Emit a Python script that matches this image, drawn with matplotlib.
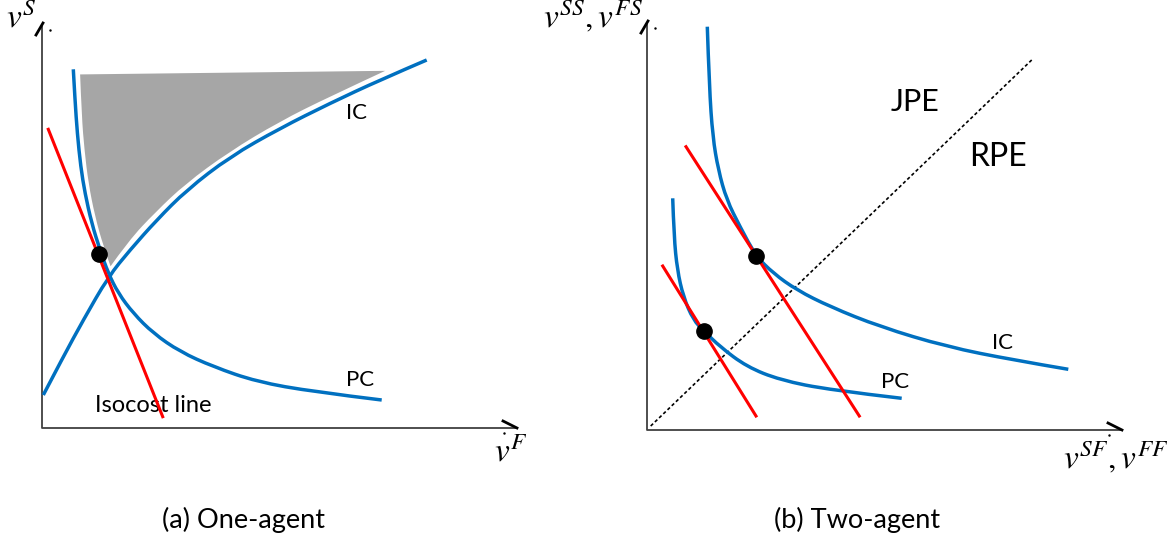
import numpy as np
import matplotlib
matplotlib.use("Agg")
import matplotlib.pyplot as plt
from matplotlib.path import Path
from matplotlib.patches import PathPatch

plt.rcParams['mathtext.fontset'] = 'stix'
TXT = 'Lato'
BLUE = '#0070c0'
RED = '#ff0000'
GRAY = '#a6a6a6'

# --- panel (a): one-agent (coords, in pixels) ---
pc_a_x = [73.3, 75, 77.3, 80.7, 85, 91.7, 100, 108.3, 118.3, 133.3, 153.3, 180, 213.3, 256.7, 313.3, 381.7]
pc_a_y = [69.3, 100, 133.3, 166.7, 193.3, 223.3, 250, 273.3, 293.3, 313.3, 333.3, 351.7, 366.7, 381.7, 391.7, 400]
ic_a_x = [43.3, 63.3, 83.3, 108.3, 130, 156.7, 186.7, 230, 280, 330, 380, 426.7]
ic_a_y = [395, 356.7, 320, 276.7, 250, 220, 190, 156.7, 128.3, 103.3, 80, 60]
# shaded set: right edge (along IC) then left edge (along PC)
region_r_x = [393.3, 330, 280, 230, 186.7, 156.7, 130, 110]
region_r_y = [69, 98.3, 123.3, 153.3, 185, 213.3, 241.7, 270]
region_l_x = [110, 101.7, 93.3, 86.7, 82.7, 80, 78.3]
region_l_y = [270, 246.7, 216.7, 183.3, 150, 116.7, 72.7]
iso_a_x = [48.3, 162.7]
iso_a_y = [129.3, 416.7]
opt_a = (99.3, 254)

# --- panel (b): two-agent ---
ic_b_x = [707.3, 709.3, 712.7, 718.3, 726.7, 740, 755.7, 773.3, 796.7, 830, 880, 946.7, 1013.3, 1068.3]
ic_b_y = [26.7, 86.7, 136.7, 170, 200, 226.7, 255.7, 273.3, 290, 306.7, 326.7, 346.7, 360, 369.3]
pc_b_x = [672.7, 674, 677.3, 683.3, 693.3, 704, 720, 746.7, 780, 830, 901.7]
pc_b_y = [198.3, 236.7, 270, 296.7, 320, 331, 346.7, 366.7, 380, 390, 398.3]
iso_b1_x = [686, 859.3]
iso_b1_y = [146.7, 416]
iso_b2_x = [662.7, 756]
iso_b2_y = [266, 416]
diag_x = [650.7, 1031.7]
diag_y = [426, 60]
opt_b_x = [755.7, 704]
opt_b_y = [255.7, 331]


def smooth(xs, ys):
    # quadratic bezier chain: read points act as control points
    pts = list(zip(xs, ys))
    verts = [pts[0]]
    codes = [Path.MOVETO]
    for i in range(1, len(pts) - 2):
        mid = ((pts[i][0] + pts[i + 1][0]) / 2, (pts[i][1] + pts[i + 1][1]) / 2)
        verts += [pts[i], mid]
        codes += [Path.CURVE3, Path.CURVE3]
    verts += [pts[-2], pts[-1]]
    codes += [Path.CURVE3, Path.CURVE3]
    return verts, codes


def curve(ax, xs, ys, **kw):
    v, c = smooth(xs, ys)
    ax.add_patch(PathPatch(Path(v, c), facecolor='none', **kw))


fig = plt.figure(figsize=(11.67, 5.4), dpi=100)
ax = fig.add_axes([0, 0, 1, 1])
ax.set_xlim(0, 1167)
ax.set_ylim(540, 0)
ax.axis('off')

# axes of both panels
for (x0, ytop, xend, ybot) in [(42, 26, 517, 428), (647, 24, 1122, 430)]:
    ax.plot([x0, x0, xend], [ytop, ybot, ybot], color='#404040', lw=1.3, solid_capstyle='butt')
    ax.plot([x0 - 6, x0 + 1], [ytop + 9, ytop - 3], color='black', lw=2.0)
    ax.plot([xend - 14, xend], [ybot - 7, ybot], color='black', lw=2.0)
    ax.plot([x0 + 8], [ytop + 4], marker='.', ms=1.5, color='black')
    ax.plot([xend - 13], [ybot + 5], marker='.', ms=1.5, color='black')

# panel (a)
vr, cr = smooth(region_r_x, region_r_y)
vl, cl = smooth(region_l_x, region_l_y)
cl[0] = Path.LINETO
region = Path(vr + vl + [vr[0]], cr + cl + [Path.CLOSEPOLY])
ax.add_patch(PathPatch(region, facecolor=GRAY, edgecolor='white', lw=2.5, zorder=2))
curve(ax, pc_a_x, pc_a_y, edgecolor=BLUE, lw=2.5, zorder=3)
curve(ax, ic_a_x, ic_a_y, edgecolor=BLUE, lw=2.5, zorder=3)
ax.plot(iso_a_x, iso_a_y, color=RED, lw=2.2, zorder=4)
ax.plot(*opt_a, 'o', color='black', ms=11, zorder=5)

ax.text(357, 113, 'IC', fontsize=16, family=TXT, ha='center', va='center')
ax.text(360, 380, 'PC', fontsize=16, family=TXT, ha='center', va='center')
ax.text(95, 405, 'Isocost line', fontsize=17, family=TXT, ha='left', va='center')

# panel (b)
ax.plot(diag_x, diag_y, color='black', lw=1.2, ls=(0, (2, 1.5)), zorder=2)
curve(ax, ic_b_x, ic_b_y, edgecolor=BLUE, lw=2.5, zorder=3)
curve(ax, pc_b_x, pc_b_y, edgecolor=BLUE, lw=2.5, zorder=3)
ax.plot(iso_b1_x, iso_b1_y, color=RED, lw=2.2, zorder=4)
ax.plot(iso_b2_x, iso_b2_y, color=RED, lw=2.2, zorder=4)
ax.plot(opt_b_x, opt_b_y, 'o', color='black', ms=11, ls='none', zorder=5)

ax.text(915, 102, 'JPE', fontsize=22, family=TXT, ha='center', va='center')
ax.text(998, 157, 'RPE', fontsize=23, family=TXT, ha='center', va='center')
ax.text(1002, 343, 'IC', fontsize=16, family=TXT, ha='center', va='center')
ax.text(895, 382, 'PC', fontsize=16, family=TXT, ha='center', va='center')

# axis labels
ax.text(6, 28, r'$v^{S}$', fontsize=24, ha='left', va='baseline')
ax.text(494, 462, r'$v^{F}$', fontsize=24, ha='left', va='baseline')
ax.text(543, 27, r'$v^{SS},v^{FS}$', fontsize=24, ha='left', va='baseline')
ax.text(1063, 468, r'$v^{SF},v^{FF}$', fontsize=24, ha='left', va='baseline')

# captions
ax.text(243, 520, '(a) One-agent', fontsize=19.5, family=TXT, ha='center', va='center')
ax.text(857, 520, '(b) Two-agent', fontsize=19.5, family=TXT, ha='center', va='center')

fig.savefig('out.png', dpi=100)
